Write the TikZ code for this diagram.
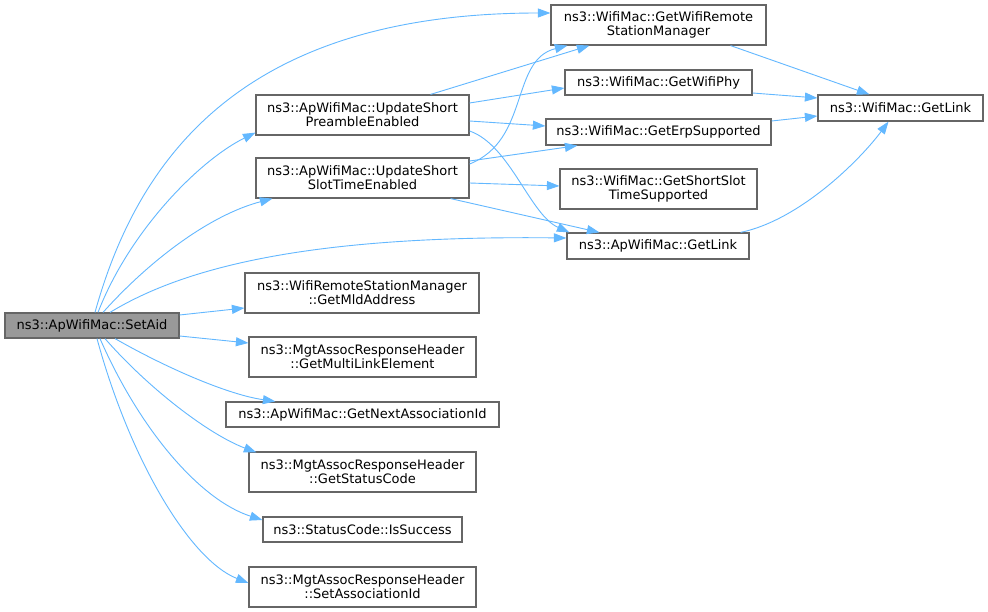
\documentclass[tikz,border=0pt]{standalone}
\usepackage{fontspec}
\setmainfont{DejaVu Sans}
\usetikzlibrary{arrows.meta}
\definecolor{edgeblue}{HTML}{63B8FF}
\definecolor{boxgray}{HTML}{666666}
\definecolor{fillgray}{HTML}{999999}
\begin{document}
\begin{tikzpicture}[x=1pt,y=-1pt,
  box/.style={draw=boxgray,line width=1.2pt,fill=white,inner sep=0pt,align=center,
    font=\fontsize{13}{14}\selectfont,text=black},
  edge/.style={draw=edgeblue,line width=0.9pt,-{Triangle[length=12.5pt,width=9pt]}}]
\fill[white] (0,0) rectangle (988,612);
\useasboundingbox (0,0) rectangle (988,612);
% nodes
\node[box,fill=fillgray,minimum width=174pt,minimum height=25pt] (setaid) at (92,325.5) {ns3::ApWifiMac::SetAid};
\node[box,minimum width=213pt,minimum height=40pt] (pre) at (362.5,115) {ns3::ApWifiMac::UpdateShort\\PreambleEnabled};
\node[box,minimum width=213pt,minimum height=40pt] (slot) at (362.5,178) {ns3::ApWifiMac::UpdateShort\\SlotTimeEnabled};
\node[box,minimum width=215pt,minimum height=40pt] (rsm) at (658.5,25) {ns3::WifiMac::GetWifiRemote\\StationManager};
\node[box,minimum width=187pt,minimum height=25pt] (phy) at (658.5,82.5) {ns3::WifiMac::GetWifiPhy};
\node[box,minimum width=165pt,minimum height=26pt] (wlink) at (900.5,108) {ns3::WifiMac::GetLink};
\node[box,minimum width=225pt,minimum height=26pt] (erp) at (658.5,132) {ns3::WifiMac::GetErpSupported};
\node[box,minimum width=197pt,minimum height=40pt] (sst) at (658.5,189) {ns3::WifiMac::GetShortSlot\\TimeSupported};
\node[box,minimum width=182pt,minimum height=26pt] (alink) at (658,246) {ns3::ApWifiMac::GetLink};
\node[box,minimum width=234pt,minimum height=40pt] (mld) at (362,293) {ns3::WifiRemoteStationManager\\::GetMldAddress};
\node[box,minimum width=227pt,minimum height=40pt] (mle) at (362.5,357) {ns3::MgtAssocResponseHeader\\::GetMultiLinkElement};
\node[box,minimum width=273pt,minimum height=25pt] (next) at (362.5,414.5) {ns3::ApWifiMac::GetNextAssociationId};
\node[box,minimum width=227pt,minimum height=40pt] (status) at (362.5,472) {ns3::MgtAssocResponseHeader\\::GetStatusCode};
\node[box,minimum width=199pt,minimum height=25pt] (succ) at (362.5,529.5) {ns3::StatusCode::IsSuccess};
\node[box,minimum width=227pt,minimum height=40pt] (assoc) at (362.5,587) {ns3::MgtAssocResponseHeader\\::SetAssociationId};
% edges from SetAid
\draw[edge] ([xshift=3pt]setaid.north) .. controls (140,150) and (250,13) .. ([yshift=12pt]rsm.west);
\draw[edge] ([xshift=6pt]setaid.north) .. controls (130,230) and (200,160) .. ([yshift=3pt]pre.south west);
\draw[edge] ([xshift=11pt]setaid.north) .. controls (150,260) and (210,215) .. ([xshift=17pt]slot.south west);
\draw[edge] ([xshift=18pt]setaid.north) .. controls (180,270) and (300,235) .. ([yshift=8pt]alink.west);
\draw[edge] ([yshift=10.5pt]setaid.east) -- ([yshift=-15pt]mld.west);
\draw[edge] ([yshift=-10.5pt]setaid.east) -- ([yshift=14pt]mle.west);
\draw[edge] ([xshift=23pt]setaid.south) .. controls (170,370) and (230,395) .. ([xshift=50pt]next.north west);
\draw[edge] ([xshift=13pt]setaid.south) .. controls (150,390) and (210,435) .. ([xshift=8pt,yshift=-1pt]status.north west);
\draw[edge] ([xshift=8pt]setaid.south) .. controls (140,430) and (200,500) .. ([yshift=9.5pt]succ.west);
\draw[edge] ([xshift=5pt]setaid.south) .. controls (130,460) and (190,560) .. ([yshift=4pt]assoc.west);
% edges from UpdateShortPreambleEnabled
\draw[edge] ([xshift=-39pt]pre.north east) -- ([xshift=39pt]rsm.south west);
\draw[edge] ([yshift=12pt]pre.east) -- ([yshift=-5.5pt]phy.west);
\draw[edge] ([yshift=-6pt]pre.east) -- ([yshift=6pt]erp.west);
\draw[edge] ([yshift=-16pt]pre.east) .. controls (510,145) and (530,215) .. ([xshift=3pt]alink.north west);
% edges from UpdateShortSlotTimeEnabled
\draw[edge] ([yshift=14pt]slot.east) .. controls (530,140) and (510,60) .. ([xshift=17pt]rsm.south west);
\draw[edge] ([yshift=17pt]slot.east) -- ([xshift=32pt]erp.south west);
\draw[edge] ([yshift=-5pt]slot.east) -- ([yshift=3pt]sst.west);
\draw[edge] ([xshift=-19pt]slot.south east) -- ([xshift=33pt]alink.north west);
% edges to WifiMac::GetLink
\draw[edge] ([xshift=-36pt]rsm.south east) -- ([xshift=52pt]wlink.north west);
\draw[edge] ([yshift=-10.5pt]phy.east) -- ([yshift=10pt]wlink.west);
\draw[edge] ([yshift=11pt]erp.east) -- ([yshift=-8pt]wlink.west);
\draw[edge] ([xshift=-9pt]alink.north east) .. controls (800,220) and (860,160) .. ([xshift=-12pt]wlink.south);
\end{tikzpicture}
\end{document}
